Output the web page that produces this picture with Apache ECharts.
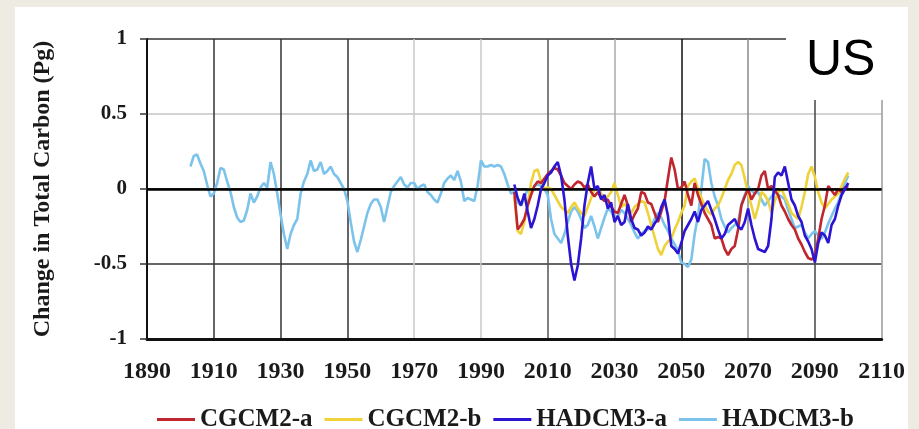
<!DOCTYPE html>
<html>
<head>
<meta charset="utf-8">
<script src="https://cdn.jsdelivr.net/npm/echarts@6/dist/echarts.min.js"></script>
<style>
html,body{margin:0;padding:0;background:#EEEBE2;}
#main{position:absolute;left:15px;top:7px;width:893px;height:422px;background:#fff;}
</style>
</head>
<body>
<div id="main"></div>
<script>
// observed record (HADCM3-b only), one value per year from 1903
const histStart = 1903;
const hadcm3bHist = [
  0.15, 0.22, 0.23, 0.17, 0.12, 0.03, -0.05, -0.03, 0.04, 0.14,
  0.13, 0.05, -0.02, -0.12, -0.19, -0.22, -0.21, -0.14, -0.03, -0.09,
  -0.05, 0.01, 0.04, 0.01, 0.18, 0.10, -0.03, -0.17, -0.30, -0.40,
  -0.30, -0.24, -0.20, -0.03, 0.05, 0.10, 0.19, 0.12, 0.13, 0.18,
  0.10, 0.12, 0.15, 0.10, 0.08, 0.04, 0.00, -0.08, -0.22, -0.35,
  -0.42, -0.34, -0.25, -0.16, -0.10, -0.07, -0.07, -0.12, -0.22, -0.12,
  -0.02, 0.02, 0.05, 0.08, 0.03, 0.01, 0.04, 0.04, 0.00, 0.02,
  0.03, -0.02, -0.04, -0.07, -0.09, -0.03, 0.04, 0.07, 0.09, 0.06,
  0.12, 0.05, -0.08, -0.06, -0.07, -0.08, 0.02, 0.19, 0.15, 0.15,
  0.16, 0.15, 0.16, 0.15, 0.10, 0.03, -0.03
];

// scenario runs, one value per year from 2000 to 2100
const futStart = 2000;
const cgcm2a = [
  -0.02, -0.27, -0.24, -0.20, -0.11, -0.04, 0.02, 0.05, 0.04, 0.07,
  0.10, 0.12, 0.14, 0.13, 0.09, 0.04, 0.02, 0.00, 0.03, 0.05,
  0.04, 0.01, 0.03, -0.02, -0.05, -0.02, -0.06, -0.08, -0.07, -0.12,
  -0.15, -0.16, -0.10, -0.04, -0.11, -0.22, -0.17, -0.13, -0.02, -0.03,
  -0.09, -0.10, -0.16, -0.22, -0.15, -0.08, 0.07, 0.21, 0.13, 0.00,
  0.01, 0.05, -0.04, -0.11, 0.04, -0.04, -0.10, -0.16, -0.20, -0.24,
  -0.33, -0.32, -0.33, -0.40, -0.44, -0.40, -0.38, -0.27, -0.11, -0.05,
  0.00, -0.07, -0.03, 0.00, 0.09, 0.12, 0.00, 0.02, -0.01, -0.04,
  -0.11, -0.15, -0.20, -0.24, -0.27, -0.33, -0.37, -0.42, -0.46, -0.47,
  -0.45, -0.33, -0.20, -0.11, 0.02, -0.01, -0.04, 0.00, -0.02, 0.01,
  0.02
];
const cgcm2b = [
  -0.05, -0.28, -0.30, -0.22, -0.10, 0.04, 0.12, 0.13, 0.05, 0.00,
  0.01, 0.00, -0.04, -0.08, -0.12, -0.14, -0.16, -0.12, -0.09, -0.13,
  -0.16, -0.18, -0.12, -0.06, 0.00, 0.01, -0.03, -0.07, -0.05, -0.02,
  0.04, -0.04, -0.12, -0.10, -0.13, -0.16, -0.12, -0.10, -0.08, -0.09,
  -0.16, -0.24, -0.32, -0.40, -0.44, -0.38, -0.35, -0.33, -0.27, -0.22,
  -0.16, -0.11, 0.02, 0.05, 0.07, 0.00, -0.06, -0.11, -0.15, -0.17,
  -0.13, -0.11, -0.06, 0.00, 0.06, 0.10, 0.16, 0.18, 0.16, 0.07,
  -0.03, -0.11, -0.20, -0.12, -0.02, -0.04, -0.08, -0.16, -0.08, -0.02,
  0.00, -0.05, -0.10, -0.16, -0.18, -0.20, -0.12, -0.02, 0.10, 0.15,
  0.08, -0.02, -0.09, -0.13, -0.10, -0.07, -0.05, -0.03, 0.02, 0.07,
  0.11
];
const hadcm3a = [
  0.03, -0.06, -0.11, -0.03, -0.15, -0.26, -0.20, -0.11, 0.00, 0.04,
  0.09, 0.11, 0.15, 0.18, 0.09, -0.07, -0.31, -0.50, -0.61, -0.51,
  -0.33, -0.11, 0.04, 0.15, 0.00, 0.02, -0.07, -0.04, -0.13, -0.09,
  -0.22, -0.18, -0.24, -0.22, -0.10, -0.20, -0.26, -0.27, -0.31, -0.29,
  -0.25, -0.27, -0.23, -0.20, -0.12, -0.07, -0.18, -0.38, -0.40, -0.43,
  -0.36, -0.28, -0.24, -0.20, -0.15, -0.22, -0.14, -0.11, -0.08, -0.14,
  -0.20, -0.27, -0.33, -0.30, -0.24, -0.22, -0.20, -0.25, -0.27, -0.22,
  -0.13, -0.24, -0.33, -0.40, -0.41, -0.42, -0.38, -0.20, 0.08, 0.11,
  0.09, 0.15, 0.04, -0.07, -0.11, -0.18, -0.22, -0.31, -0.35, -0.40,
  -0.49, -0.36, -0.29, -0.31, -0.36, -0.24, -0.20, -0.11, -0.04, 0.00,
  0.04
];
const hadcm3bFut = [
  -0.02, -0.09, -0.11, -0.06, 0.00, -0.03, 0.02, 0.03, 0.02, 0.00,
  -0.04, -0.20, -0.30, -0.33, -0.36, -0.30, -0.22, -0.15, -0.12, -0.15,
  -0.20, -0.26, -0.24, -0.18, -0.25, -0.33, -0.26, -0.19, -0.13, -0.15,
  -0.20, -0.18, -0.14, -0.16, -0.20, -0.24, -0.29, -0.33, -0.30, -0.28,
  -0.27, -0.25, -0.20, -0.16, -0.19, -0.24, -0.28, -0.33, -0.37, -0.41,
  -0.49, -0.50, -0.52, -0.47, -0.30, -0.18, 0.00, 0.20, 0.18, 0.04,
  -0.05, -0.11, -0.20, -0.25, -0.29, -0.26, -0.24, -0.22, -0.10, -0.04,
  0.02, -0.01, -0.03, -0.02, -0.07, -0.11, -0.08, -0.05, -0.02, -0.04,
  -0.05, -0.07, -0.14, -0.20, -0.26, -0.25, -0.24, -0.29, -0.33, -0.30,
  -0.28, -0.31, -0.33, -0.29, -0.23, -0.18, -0.13, -0.09, -0.02, 0.04,
  0.09
];

const seriesNames = ['CGCM2-a', 'CGCM2-b', 'HADCM3-a', 'HADCM3-b'];
const seriesColors = ['#C0262E', '#EFD23A', '#2B14D2', '#7CC3EC'];

function pairs(start, values) {
  return values.map((v, i) => [start + i, v]);
}

const hadcm3b = pairs(histStart, hadcm3bHist).concat(pairs(futStart, hadcm3bFut));

const serif = '"Liberation Serif", "Times New Roman", serif';

const chart = echarts.init(document.getElementById('main'));

function line(name, data, idx, z) {
  return {
    name: name,
    type: 'line',
    data: data,
    symbol: 'none',
    z: z,
    lineStyle: { color: seriesColors[idx], width: 2.6 },
    itemStyle: { color: seriesColors[idx] },
    animation: false
  };
}

const option = {
  animation: false,
  grid: { left: 132, right: 26, top: 32, bottom: 90 },
  legend: {
    data: seriesNames,
    icon: 'rect',
    left: 137,
    top: 395,
    itemWidth: 38,
    itemHeight: 3,
    itemGap: 12,
    textStyle: { fontFamily: serif, fontWeight: 'bold', fontSize: 25, color: '#1a1a1a' }
  },
  xAxis: {
    type: 'value',
    min: 1890,
    max: 2110,
    interval: 20,
    axisLine: { onZero: false, lineStyle: { color: '#111', width: 3 } },
    axisTick: { show: false },
    axisLabel: {
      fontFamily: serif, fontWeight: 'bold', fontSize: 24, color: '#1a1a1a', margin: 21,
      formatter: (v) => String(v)
    },
    splitLine: {
      lineStyle: {
        width: 1.5,
        color: ['#222', '#333', '#333', '#333', '#c8c8c8', '#c8c8c8', '#555', '#a8a8a8', '#111', '#888', '#444', '#999']
      }
    }
  },
  yAxis: {
    type: 'value',
    min: -1,
    max: 1,
    interval: 0.5,
    name: 'Change in Total Carbon (Pg)',
    nameLocation: 'middle',
    nameGap: 92,
    nameTextStyle: { fontFamily: serif, fontWeight: 'bold', fontSize: 24, color: '#1a1a1a' },
    axisLine: { show: true, lineStyle: { color: '#111', width: 2 } },
    axisTick: { show: true, length: 7, lineStyle: { color: '#333', width: 1.5 } },
    axisLabel: { fontFamily: serif, fontWeight: 'bold', fontSize: 21, color: '#1a1a1a', margin: 20 },
    splitLine: {
      lineStyle: {
        width: 1.5,
        color: ['#111', '#333', '#000', '#c4c4c4', '#333']
      }
    }
  },
  graphic: [
    {
      type: 'rect',
      left: 771,
      top: 0,
      z: 100,
      shape: { width: 122, height: 93 },
      style: { fill: '#fff' }
    },
    {
      type: 'text',
      left: 791,
      top: 29,
      z: 101,
      style: { text: 'US', fill: '#000', font: '50px "Liberation Sans", Arial, sans-serif' }
    }
  ],
  series: [
    line('HADCM3-b', hadcm3b, 3, 2),
    line('CGCM2-b', pairs(futStart, cgcm2b), 1, 3),
    line('CGCM2-a', pairs(futStart, cgcm2a), 0, 4),
    line('HADCM3-a', pairs(futStart, hadcm3a), 2, 5),
    {
      type: 'line',
      data: [],
      markLine: {
        silent: true,
        symbol: 'none',
        label: { show: false },
        lineStyle: { color: '#000', width: 2.5, type: 'solid' },
        data: [{ yAxis: 0 }]
      },
      z: 1
    }
  ]
};

chart.setOption(option);
</script>
</body>
</html>
